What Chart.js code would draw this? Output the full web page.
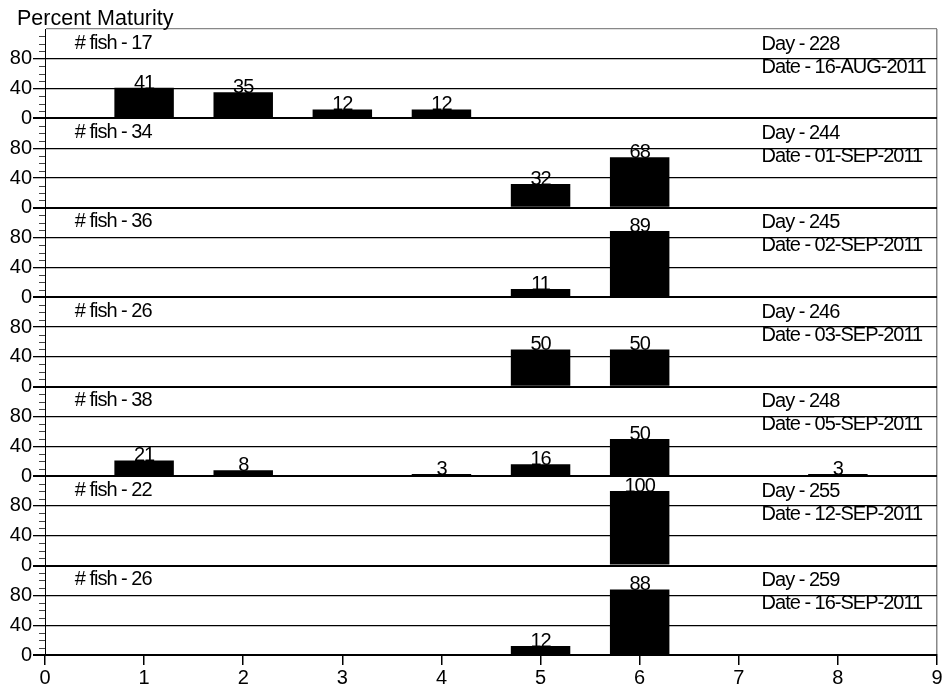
<!DOCTYPE html>
<html>
<head>
<meta charset="utf-8">
<script src="https://cdn.jsdelivr.net/npm/chart.js@4.4.1/dist/chart.umd.min.js"></script>
<style>
  html, body { margin: 0; padding: 0; background: #fff; }
  #wrap { width: 947px; height: 691px; }
</style>
</head>
<body>
<div id="wrap"><canvas id="chart-maturity"></canvas></div>
<script>
// maturity stages on the x axis
const stages = [1, 2, 3, 4, 5, 6, 7, 8];
const xTicks = [0, 1, 2, 3, 4, 5, 6, 7, 8, 9];
const yTicks = [0, 40, 80];

// one panel per sampling day, top to bottom
const fishCounts = [17, 34, 36, 26, 38, 22, 26];
const days = [228, 244, 245, 246, 248, 255, 259];
const dates = ['16-AUG-2011', '01-SEP-2011', '02-SEP-2011', '03-SEP-2011',
  '05-SEP-2011', '12-SEP-2011', '16-SEP-2011'];

// percent of fish at each stage
const day228 = [41, 35, 12, 12, 0, 0, 0, 0];
const day244 = [0, 0, 0, 0, 32, 68, 0, 0];
const day245 = [0, 0, 0, 0, 11, 89, 0, 0];
const day246 = [0, 0, 0, 0, 50, 50, 0, 0];
const day248 = [21, 8, 0, 3, 16, 50, 0, 3];
const day255 = [0, 0, 0, 0, 0, 100, 0, 0];
const day259 = [0, 0, 0, 0, 12, 88, 0, 0];

const panels = [day228, day244, day245, day246, day248, day255, day259];

const FONT = '"Liberation Sans", Arial, sans-serif';
Chart.defaults.font.family = FONT;
Chart.defaults.color = '#000';

let datasets = panels.map((vals, i) => ({
  label: 'Day ' + days[i],
  data: stages.map((s, j) => ({ x: s, y: vals[j] })).filter(p => p.y > 0),
  xAxisID: 'x',
  yAxisID: 'p' + i,
  backgroundColor: '#000',
  borderWidth: 0,
  barPercentage: 0.6,
  categoryPercentage: 1,
  grouped: false
}));

let scales = {
  x: {
    type: 'linear',
    min: 0,
    max: 9,
    offset: false,
    border: { display: true, color: '#000', width: 2 },
    grid: {
      offset: false,
      color: c => c.tick && c.tick.value === 9 ? '#888' : 'rgba(0,0,0,0)',
      lineWidth: 1.5,
      tickColor: '#000',
      tickLength: 10
    },
    ticks: {
      stepSize: 1,
      autoSkip: false,
      padding: 1,
      font: { size: 20 },
      callback: v => xTicks.includes(v) ? String(v) : ''
    }
  }
};

// y axes stacked on the left, listed bottom panel first
for (let i = panels.length - 1; i >= 0; i--) {
  scales['p' + i] = {
    type: 'linear',
    position: 'left',
    stack: 'panels',
    stackWeight: 1,
    min: 0,
    max: 120,
    border: { display: true, color: '#000', width: 1 },
    grid: {
      color: c => {
        let v = c.tick ? c.tick.value : -1;
        if (v === 0 || v === 40 || v === 80) return '#000';
        if (v === 120 && i === 0) return '#888';
        return 'rgba(0,0,0,0)';
      },
      lineWidth: c => (c.tick && c.tick.value === 0) ? 2 : 1.3,
      tickColor: c => (c.tick && yTicks.includes(c.tick.value)) ? '#000' : 'rgba(0,0,0,0)',
      tickLength: 12
    },
    ticks: {
      stepSize: 10,
      autoSkip: false,
      padding: 1,
      font: { size: 20 },
      callback: v => yTicks.includes(v) ? String(v) : ''
    },
    afterFit: s => { s.width = 45; }
  };
}

// short minor ticks, bar values and panel notes
const panelText = {
  id: 'panelText',
  afterDraw(chart) {
    const ctx = chart.ctx;
    const xs = chart.scales.x;
    ctx.save();

    ctx.strokeStyle = '#444';
    ctx.lineWidth = 1;
    panels.forEach((vals, i) => {
      const ys = chart.scales['p' + i];
      for (let v = 10; v < 120; v += 10) {
        if (yTicks.includes(v)) continue;
        const py = Math.round(ys.getPixelForValue(v)) + 0.5;
        ctx.beginPath();
        ctx.moveTo(ys.right - 6, py);
        ctx.lineTo(ys.right, py);
        ctx.stroke();
      }
    });

    ctx.fillStyle = '#000';
    ctx.font = '20px ' + FONT;
    ctx.letterSpacing = '-1px';
    ctx.textAlign = 'center';
    ctx.textBaseline = 'alphabetic';
    chart.data.datasets.forEach((ds, i) => {
      const meta = chart.getDatasetMeta(i);
      meta.data.forEach((bar, j) => {
        ctx.fillText(String(ds.data[j].y), bar.x, bar.y + 1);
      });
    });

    ctx.textAlign = 'left';
    ctx.textBaseline = 'middle';
    panels.forEach((vals, i) => {
      const ys = chart.scales['p' + i];
      ctx.fillText('# fish - ' + fishCounts[i], xs.getPixelForValue(0.3), ys.top + 14);
      ctx.fillText('Day - ' + days[i], xs.getPixelForValue(7.23), ys.top + 15);
      ctx.fillText('Date - ' + dates[i], xs.getPixelForValue(7.23), ys.top + 38);
    });

    ctx.font = '21.5px ' + FONT;
    ctx.letterSpacing = '0px';
    ctx.fillText('Percent Maturity', 17, chart.chartArea.top - 10);
    ctx.restore();
  }
};

new Chart(document.getElementById('chart-maturity'), {
  type: 'bar',
  data: { datasets: datasets },
  options: {
    responsive: true,
    maintainAspectRatio: false,
    animation: false,
    layout: { padding: { top: 29, right: 10, left: 0, bottom: 0 } },
    plugins: {
      legend: { display: false },
      tooltip: { enabled: false },
      title: { display: false }
    },
    scales: scales
  },
  plugins: [panelText]
});
</script>
</body>
</html>
